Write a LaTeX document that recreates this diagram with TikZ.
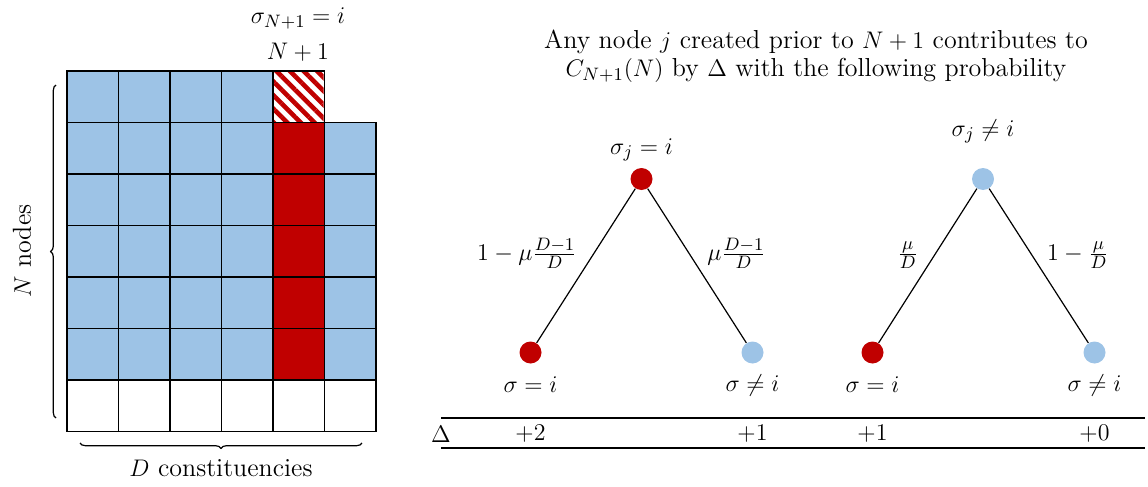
\documentclass[tikz,border=0pt]{standalone}
\usepackage{amsmath,amssymb}
\usetikzlibrary{positioning,decorations.pathreplacing,patterns.meta}
\definecolor{cellblue}{HTML}{9DC3E6}
\definecolor{cellred}{HTML}{C00000}
\begin{document}
\begin{tikzpicture}[x=0.5pt, y=-0.5pt, every node/.style={font=\fontsize{13}{14}\selectfont},
  cell/.style={draw, line width=0.75pt},
  dot/.style={circle, minimum size=11pt, inner sep=0pt},
  reddot/.style={dot, fill=cellred},
  bluedot/.style={dot, fill=cellblue},
  branch/.style={draw, line width=0.6pt},
  curly/.style={decorate, decoration={brace, amplitude=2.7pt}, line width=0.6pt},
  rule/.style={draw, line width=0.6pt}]
\useasboundingbox (0,0) rectangle (1148,487);
\def\cs{51.5}
% fills of the grid
\fill[cellblue] (67,71) rectangle (272,380);
\fill[cellblue] (323.5,122.5) rectangle (375,380);
\fill[cellred] (272,122.5) rectangle (323.5,380);
\fill[pattern={Lines[angle=-45,distance=4.8pt,line width=2.3pt]}, pattern color=cellred] (272,71) rectangle (323.5,122.5);
% cell borders
\foreach \c in {0,...,4} \draw[cell] ({67+\cs*\c},71) rectangle +(\cs,\cs);
\foreach \c in {0,...,5} \foreach \r in {1,...,6} \draw[cell] ({67+\cs*\c},{71+\cs*\r}) rectangle +(\cs,\cs);
\node (signew) at (298,18) {$\sigma_{N+1}=i$};
\node (newnode) at (298,52) {$N+1$};
% braces
\coordinate (bl1) at (56,418);
\coordinate (bl2) at (56,85);
\draw[curly] (bl1) -- (bl2);
\node[rotate=90] (nnodes) at (22,251) {$N$ nodes};
\coordinate (bb1) at (362,443);
\coordinate (bb2) at (80,443);
\draw[curly] (bb1) -- (bb2);
\node (dconst) at (221,468) {$D$ constituencies};
% title
\node[align=center] (title) at (816,56) {Any node $j$ created prior to $N+1$ contributes to\\ $C_{N+1}(N)$ by $\Delta$ with the following probability};
% first tree
\node[reddot] (topa) at (641.5,179) {};
\node[reddot] (lefta) at (530.5,352.5) {};
\node[bluedot] (righta) at (752.5,352.5) {};
\node (siga) at (641.5,150) {$\sigma_j=i$};
\node (leftalab) at (530.5,385) {$\sigma=i$};
\node (rightalab) at (752.5,385) {$\sigma\neq i$};
\draw[branch] (topa) -- node[pos=0.42, left=5pt] {$1-\mu\frac{D-1}{D}$} (lefta);
\draw[branch] (topa) -- node[pos=0.42, right=5.5pt] {$\mu\frac{D-1}{D}$} (righta);
% second tree
\node[bluedot] (topb) at (983,179) {};
\node[reddot] (leftb) at (872.5,352.5) {};
\node[bluedot] (rightb) at (1094.5,352.5) {};
\node (sigb) at (983,131.5) {$\sigma_j\neq i$};
\node (leftblab) at (872.5,385) {$\sigma=i$};
\node (rightblab) at (1094.5,385) {$\sigma\neq i$};
\draw[branch] (topb) -- node[pos=0.43, left=4.7pt] {$\frac{\mu}{D}$} (leftb);
\draw[branch] (topb) -- node[pos=0.43, right=4pt] {$1-\frac{\mu}{D}$} (rightb);
% table of increments
\coordinate (ruleal) at (441,418);
\coordinate (rulear) at (1145,418);
\coordinate (rulebl) at (441,448);
\coordinate (rulebr) at (1145,448);
\draw[rule] (ruleal) -- (rulear);
\draw[rule] (rulebl) -- (rulebr);
\node (delta) at (441,434) {$\Delta$};
\node (inca) at (530.5,434) {$+2$};
\node (incb) at (752.5,434) {$+1$};
\node (incc) at (872.5,434) {$+1$};
\node (incd) at (1094.5,434) {$+0$};
\end{tikzpicture}
\end{document}
